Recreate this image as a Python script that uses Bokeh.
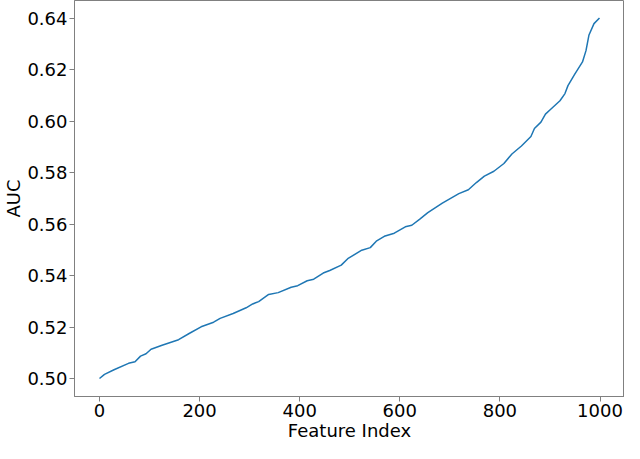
from bokeh.plotting import figure
from bokeh.models import Range1d, FixedTicker, PrintfTickFormatter
from bokeh.embed import file_html
from bokeh.resources import INLINE

feature_index = [0, 10, 29, 58, 71, 82, 93, 103, 125, 158, 180, 203, 228, 241, 267,
                 293, 306, 318, 338, 357, 383, 396, 415, 428, 447, 460, 483, 496, 524, 541,
                 553, 569, 589, 611, 624, 640, 656, 685, 718, 737, 753, 769, 788, 808, 824,
                 843, 862, 869, 882, 891, 901, 920, 930, 936, 949, 965, 972, 978, 988, 999]
auc = [0.5000, 0.5016, 0.5034, 0.5059, 0.5065, 0.5087, 0.5096, 0.5114, 0.5129, 0.5151,
       0.5176, 0.5201, 0.5219, 0.5234, 0.5253, 0.5275, 0.5290, 0.5299, 0.5327, 0.5334,
       0.5355, 0.5361, 0.5380, 0.5386, 0.5410, 0.5420, 0.5441, 0.5466, 0.5499, 0.5509,
       0.5534, 0.5553, 0.5565, 0.5590, 0.5596, 0.5620, 0.5645, 0.5682, 0.5719, 0.5734,
       0.5762, 0.5787, 0.5806, 0.5836, 0.5873, 0.5904, 0.5941, 0.5972, 0.5997, 0.6028,
       0.6046, 0.6080, 0.6108, 0.6139, 0.6182, 0.6231, 0.6275, 0.6336, 0.6380, 0.6402]
x_ticks = [0, 200, 400, 600, 800, 1000]
y_ticks = [0.50, 0.52, 0.54, 0.56, 0.58, 0.60, 0.62, 0.64]

p = figure(width=624, height=443, output_backend="svg", toolbar_location=None,
           x_range=Range1d(-49.95, 1048.95), y_range=Range1d(0.493, 0.647),
           min_border_right=0, min_border_top=0, min_border_left=0, min_border_bottom=0)
p.line(feature_index, auc, line_color="#1f77b4", line_width=1.5)

p.xgrid.visible = False
p.ygrid.visible = False
p.outline_line_color = "#808080"
p.outline_line_width = 1
p.background_fill_color = "white"
p.border_fill_color = "white"

p.xaxis.ticker = FixedTicker(ticks=x_ticks)
p.yaxis.ticker = FixedTicker(ticks=y_ticks)
p.yaxis.formatter = PrintfTickFormatter(format="%.2f")
p.xaxis.axis_label = "Feature Index"
p.yaxis.axis_label = "AUC"
for ax in (p.xaxis, p.yaxis):
    ax.axis_line_color = "#808080"
    ax.major_tick_line_color = "#808080"
    ax.minor_tick_line_color = None
    ax.major_tick_out = 5
    ax.major_tick_in = 0
    ax.major_label_text_font = "DejaVu Sans"
    ax.major_label_text_font_size = "18px"
    ax.major_label_text_color = "black"
    ax.axis_label_text_font = "DejaVu Sans"
    ax.axis_label_text_font_size = "18px"
    ax.axis_label_text_font_style = "normal"
    ax.axis_label_text_color = "black"
    ax.major_label_standoff = 2
    ax.axis_label_standoff = 0

open("out.html", "w").write(file_html(p, INLINE))
